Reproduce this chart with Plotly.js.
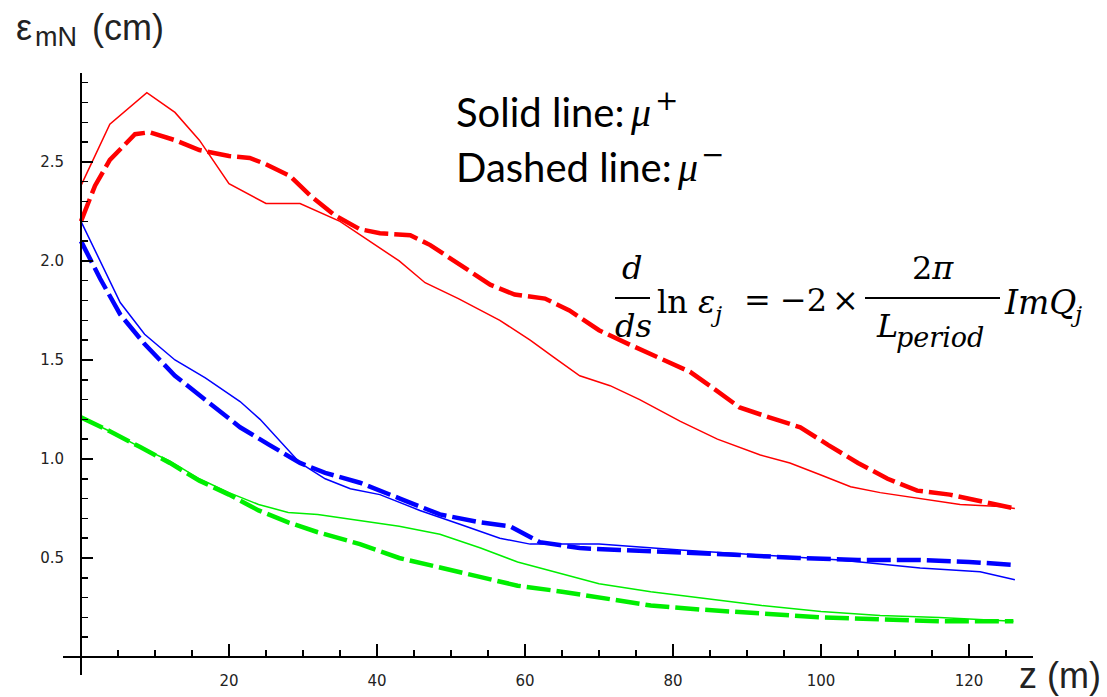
<!DOCTYPE html>
<html>
<head>
<meta charset="utf-8">
<script src="https://cdn.plot.ly/plotly-3.0.1.min.js"></script>
<style>html,body{margin:0;padding:0;background:#fff;}</style>
</head>
<body>
<div id="chart" style="width:1107px;height:697px;"></div>
<script>
// ---- data (z in m, emittance in cm) ----
const zRedSolid = [0, 3.9, 8.9, 12.7, 16, 20, 25, 29.6, 35, 39, 43, 46.5, 51, 56.6, 60.7, 64, 67.4, 71.5, 75.5, 81, 86, 91.8, 95.8, 99.9, 104, 108, 113.4, 118.8, 124.2, 126.2];
const eRedSolid = [2.38, 2.69, 2.85, 2.75, 2.61, 2.39, 2.29, 2.29, 2.2, 2.1, 2.0, 1.89, 1.81, 1.70, 1.60, 1.51, 1.42, 1.37, 1.30, 1.19, 1.10, 1.02, 0.98, 0.92, 0.86, 0.83, 0.80, 0.77, 0.76, 0.75];

const zRedDash = [0, 1.9, 3.9, 7.3, 9.3, 12.7, 16, 20, 22.8, 24.9, 28.2, 31, 34.3, 37.7, 40.4, 44.5, 47.2, 51.2, 55.3, 58.6, 62.7, 66, 70, 74, 78, 82.3, 85.7, 89, 93, 97.2, 101, 105, 109, 113, 117.4, 121.5, 126.2];
const eRedDash = [2.2, 2.38, 2.51, 2.64, 2.65, 2.61, 2.56, 2.53, 2.52, 2.49, 2.43, 2.33, 2.23, 2.16, 2.14, 2.13, 2.08, 1.98, 1.88, 1.83, 1.81, 1.75, 1.65, 1.58, 1.51, 1.44, 1.35, 1.26, 1.21, 1.16, 1.07, 0.98, 0.90, 0.84, 0.82, 0.79, 0.75];

const zBlueSolid = [0, 2.6, 5.3, 8.6, 12.7, 16.8, 21.5, 24.2, 26.9, 29.6, 33, 36.4, 40.4, 45.8, 51.2, 56.6, 60.7, 70, 81, 91.8, 102.6, 113.4, 121.5, 126.2];
const eBlueSolid = [2.2, 2.0, 1.79, 1.63, 1.50, 1.41, 1.29, 1.20, 1.09, 0.98, 0.90, 0.85, 0.82, 0.74, 0.67, 0.60, 0.57, 0.57, 0.54, 0.515, 0.49, 0.45, 0.43, 0.39];

const zBlueDash = [0, 2.6, 5.3, 8.6, 12.7, 16.8, 21.5, 25.5, 29.6, 33, 37.7, 43.1, 48.5, 53.9, 58, 62, 67.4, 72.8, 81, 89, 97, 105, 113, 120, 126.2];
const eBlueDash = [2.1, 1.91, 1.73, 1.58, 1.42, 1.30, 1.16, 1.07, 0.98, 0.93, 0.88, 0.80, 0.72, 0.68, 0.66, 0.58, 0.55, 0.54, 0.53, 0.515, 0.50, 0.49, 0.49, 0.48, 0.465];

const zGreenSolid = [0, 3.9, 8, 12, 16, 20, 24, 28, 32, 37.7, 43, 48.5, 54, 59, 65, 70, 77, 83.6, 92, 100, 108, 116, 126];
const eGreenSolid = [1.21, 1.14, 1.06, 0.99, 0.90, 0.83, 0.77, 0.73, 0.72, 0.69, 0.66, 0.62, 0.55, 0.48, 0.42, 0.37, 0.33, 0.30, 0.26, 0.23, 0.21, 0.20, 0.18];

const zGreenDash = [0, 3.9, 8, 12, 16, 20, 24, 28, 32, 37.7, 43, 48.5, 54, 59, 65, 70, 77, 83.6, 92, 100, 108, 116, 126];
const eGreenDash = [1.21, 1.14, 1.06, 0.98, 0.89, 0.82, 0.74, 0.68, 0.63, 0.57, 0.50, 0.45, 0.40, 0.36, 0.33, 0.30, 0.26, 0.24, 0.22, 0.20, 0.19, 0.18, 0.18];

const xTickVals = [20, 40, 60, 80, 100, 120];
const yTickVals = [0.5, 1.0, 1.5, 2.0, 2.5];
const yTickText = ['0.5', '1.0', '1.5', '2.0', '2.5'];

// ---- layout geometry (pixels of the plot area) ----
const L = 63, R = 1033, T = 73, B = 675;
const PX = x => (x - L) / (R - L);
const PY = y => (B - y) / (B - T);

const solid = (c) => ({color: c, width: 1.5});
const dashed = (c) => ({color: c, width: 4.5, dash: '24px,6px'});

function tr(x, y, line) {
  return {x: x, y: y, type: 'scatter', mode: 'lines', line: line, hoverinfo: 'skip', showlegend: false};
}

const traces = [
  tr(zGreenDash, eGreenDash, dashed('#00ee00')),
  tr(zGreenSolid, eGreenSolid, solid('#00ee00')),
  tr(zBlueDash, eBlueDash, dashed('#0000ff')),
  tr(zBlueSolid, eBlueSolid, solid('#0000ff')),
  tr(zRedDash, eRedDash, dashed('#ff0000')),
  tr(zRedSolid, eRedSolid, solid('#ff0000'))
];

const tickFont = {family: 'DejaVu Sans', size: 15, color: '#222'};
const serif = 'DejaVu Serif';
const sans = 'Liberation Sans';

function ann(text, x, y, xanchor, size, family, color) {
  return {
    text: text, xref: 'paper', yref: 'paper', x: PX(x), y: PY(y),
    xanchor: xanchor, yanchor: 'middle', showarrow: false,
    font: {family: family, size: size, color: color || '#000'}
  };
}

const annotations = [
  // y-axis label  ε_mN (cm)
  ann('ε', 14, 27, 'left', 36, sans, '#222'),
  ann('mN', 33, 37, 'left', 27, sans, '#222'),
  ann('(cm)', 90, 27, 'left', 36, sans, '#222'),
  // x-axis label
  ann('z (m)', 1017, 675, 'left', 36, sans, '#222'),
  // legend note
  ann('Solid line:', 454, 112, 'left', 40, 'Lato'),
  ann('<i>μ</i>', 640, 112, 'center', 40, 'Liberation Serif'),
  ann('+', 666, 101, 'center', 28, serif),
  ann('Dashed line:', 454, 167, 'left', 40, 'Lato'),
  ann('<i>μ</i>', 687, 167, 'center', 40, 'Liberation Serif'),
  ann('−', 712, 154, 'center', 28, serif),
  // formula
  ann('<i>d</i>', 632, 268, 'center', 32, serif),
  ann('<i>ds</i>', 633, 326, 'center', 32, serif),
  ann('ln <i>ε</i>', 655, 302, 'left', 32, serif),
  ann('<i>j</i>', 708, 314, 'left', 23, serif),
  ann('=', 757, 300, 'center', 32, serif),
  ann('−2', 803, 300, 'center', 32, serif),
  ann('×', 845, 300, 'center', 32, serif),
  ann('2<i>π</i>', 933, 268, 'center', 32, serif),
  ann('<i>L</i>', 874, 326, 'left', 32, serif),
  ann('<i>period</i>', 894, 337, 'left', 27, serif),
  ann('<i>ImQ</i>', 1002, 302, 'left', 33, serif),
  ann('<i>j</i>', 1068, 314, 'left', 23, serif)
];

const shapes = [
  {type: 'line', xref: 'paper', yref: 'paper', x0: PX(615), x1: PX(650), y0: PY(298), y1: PY(298), line: {color: '#000', width: 2}},
  {type: 'line', xref: 'paper', yref: 'paper', x0: PX(865), x1: PX(1000), y0: PY(298), y1: PY(298), line: {color: '#000', width: 2}}
];

const layout = {
  width: 1107, height: 697,
  margin: {l: L, r: 1107 - R, t: T, b: 697 - B, pad: 0},
  paper_bgcolor: '#fff', plot_bgcolor: '#fff',
  showlegend: false,
  xaxis: {
    range: [-2.43, 128.65], anchor: 'free', position: PY(657),
    showgrid: false, zeroline: false, showline: true, linecolor: '#000', linewidth: 2,
    tickmode: 'array', tickvals: xTickVals, ticks: 'inside', ticklen: 12, tickwidth: 1.5, tickcolor: '#000',
    minor: {tickmode: 'linear', tick0: 0, dtick: 5, ticks: 'inside', ticklen: 6, tickwidth: 1.5, tickcolor: '#000'},
    tickfont: tickFont, ticklabelstandoff: 10, automargin: false, fixedrange: true
  },
  yaxis: {
    range: [-0.0909, 2.949], anchor: 'free', position: PX(81),
    showgrid: false, zeroline: false, showline: true, linecolor: '#000', linewidth: 2,
    tickmode: 'array', tickvals: yTickVals, ticktext: yTickText, ticks: 'inside', ticklen: 11, tickwidth: 1.5, tickcolor: '#000',
    minor: {tickmode: 'linear', tick0: 0, dtick: 0.1, ticks: 'inside', ticklen: 6, tickwidth: 1.5, tickcolor: '#000'},
    tickfont: tickFont, ticklabelstandoff: 13, automargin: false, fixedrange: true
  },
  annotations: annotations,
  shapes: shapes
};

Plotly.newPlot('chart', traces, layout, {staticPlot: true, displayModeBar: false});
</script>
</body>
</html>
